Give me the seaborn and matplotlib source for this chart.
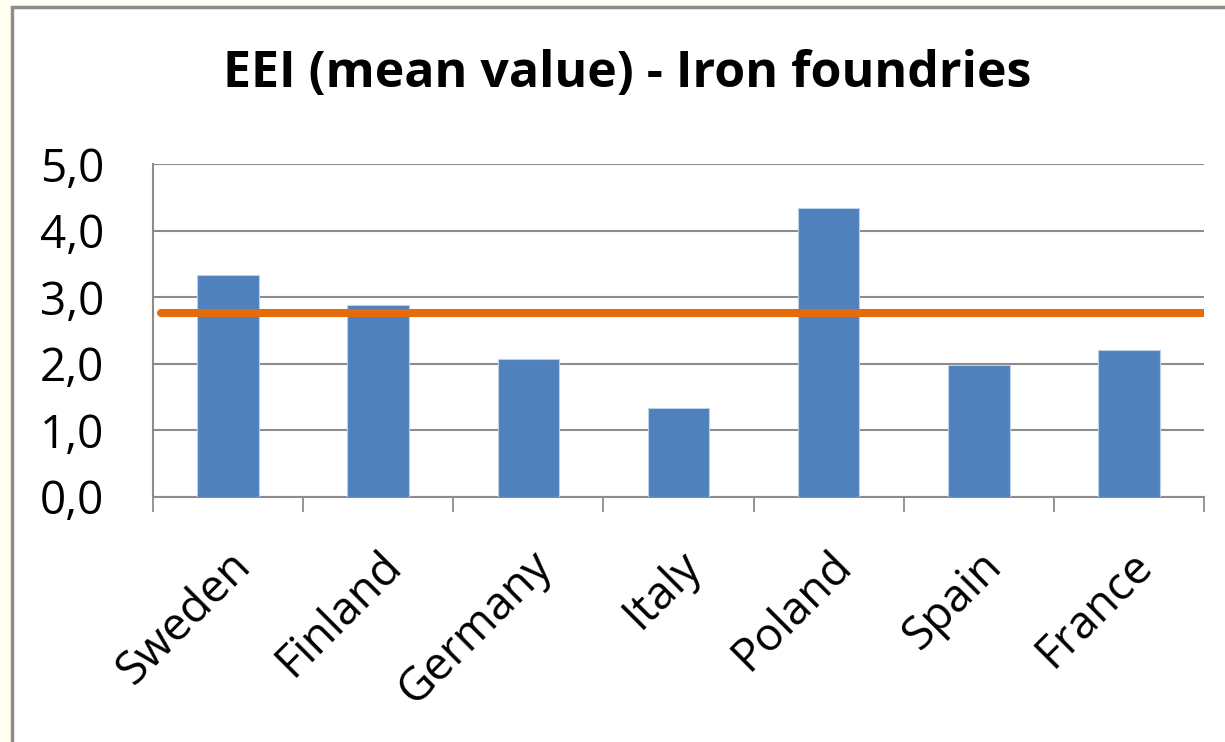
import pandas as pd
import seaborn as sns
import matplotlib.pyplot as plt
from matplotlib.patches import Rectangle

# Values
countries = ['Sweden', 'Finland', 'Germany', 'Italy', 'Poland', 'Spain', 'France']
eei_mean = [3.33, 2.89, 2.07, 1.33, 4.34, 1.98, 2.20]
overall_mean = 2.76
y_ticks = [0, 1, 2, 3, 4, 5]
y_tick_labels = ['0,0', '1,0', '2,0', '3,0', '4,0', '5,0']

data = pd.DataFrame({'Country': countries, 'EEI': eei_mean})

sns.set_style('white')
plt.rcParams['font.family'] = ['Open Sans', 'DejaVu Sans']

fig = plt.figure(figsize=(12.25, 7.42), dpi=100)
fig.patch.set_facecolor('#FFFEF0')

# white chart area with grey frame on the left and top
fig.patches.append(Rectangle((12 / 1225, -0.05), 1.1, 1 - 7 / 742 + 0.05,
                             transform=fig.transFigure, facecolor='white',
                             edgecolor='#8C8C8C', linewidth=2.5, zorder=-5))

ax = fig.add_axes([153 / 1225, 245 / 742, 1051 / 1225, 333 / 742])
ax.set_facecolor('none')

sns.barplot(data=data, x='Country', y='EEI', color='#4F81BD', width=0.41,
            saturation=1, edgecolor='#BCD0E8', linewidth=0.8, ax=ax, zorder=3)

ax.axhline(overall_mean, xmin=0.008, xmax=1, color='#E46C0A', linewidth=5.8, zorder=4)

ax.set_xlim(-0.5, len(countries) - 0.5)
ax.set_ylim(0, 5)
ax.set_yticks(y_ticks)
ax.set_yticklabels(y_tick_labels, fontsize=33, color='black')
ax.yaxis.grid(True, color='#8C8C8C', linewidth=1.5)
ax.set_axisbelow(True)

# category ticks sit on the boundaries between bars
ax.set_xticks([i - 0.5 for i in range(len(countries) + 1)], minor=True)
ax.set_xticks(range(len(countries)))
ax.set_xticklabels(countries, rotation=45, ha='right', rotation_mode='anchor',
                   fontsize=33, color='black')
ax.tick_params(axis='x', which='major', length=0, pad=33)
ax.tick_params(axis='x', which='minor', length=11, width=1.3, color='#8C8C8C', direction='out')
ax.tick_params(axis='y', length=13, width=1.5, color='#8C8C8C', direction='out', pad=22)
ax.xaxis.set_ticks_position('bottom')

for side in ['top', 'right']:
    ax.spines[side].set_visible(False)
for side in ['left', 'bottom']:
    ax.spines[side].set_color('#8C8C8C')
    ax.spines[side].set_linewidth(1.5)

ax.set_xlabel('')
ax.set_ylabel('')

fig.text(627 / 1225, 1 - 74 / 742, 'EEI (mean value) - Iron foundries',
         ha='center', va='center', fontsize=36, fontweight='bold', color='black')

fig.savefig('out.png', dpi=100, facecolor=fig.get_facecolor())
